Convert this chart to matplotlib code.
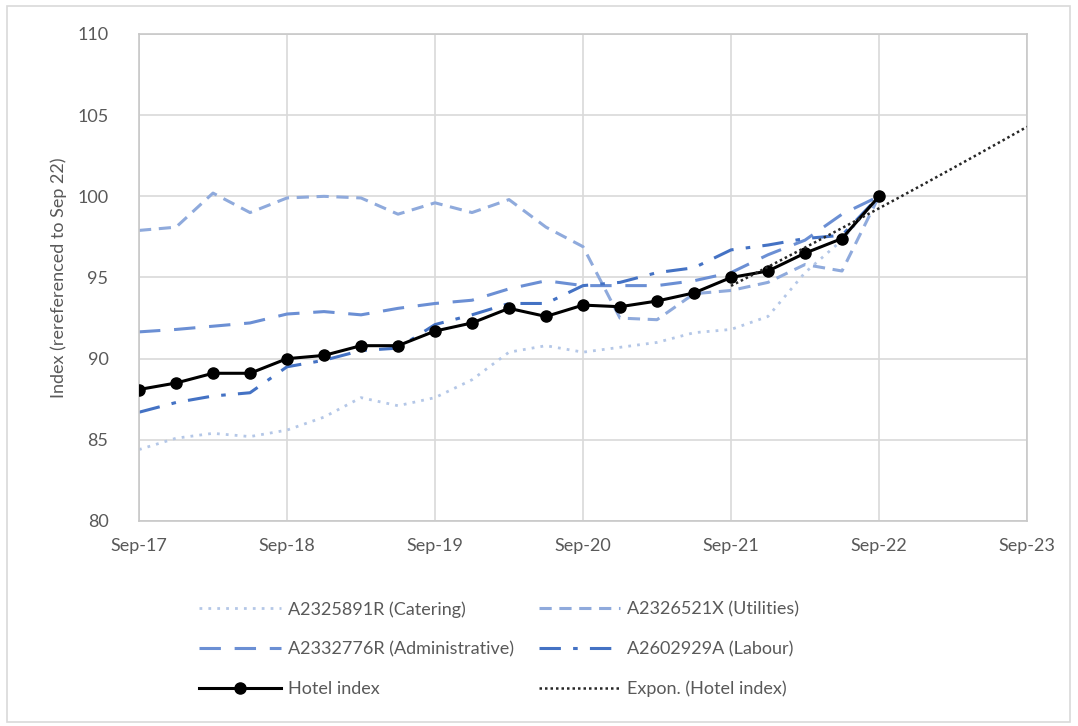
import numpy as np
from matplotlib import pyplot as plt
from matplotlib.patches import Rectangle

# --------------- Data (quarterly, Sep-17 .. Sep-22) ---------------
year_labels = ['Sep-17', 'Sep-18', 'Sep-19', 'Sep-20', 'Sep-21', 'Sep-22', 'Sep-23']

catering = [84.4, 85.1, 85.4, 85.2, 85.6, 86.4, 87.6, 87.1, 87.6, 88.7, 90.4,
            90.8, 90.4, 90.7, 91.0, 91.6, 91.8, 92.6, 95.3, 97.3, 100.0]
utilities = [97.9, 98.1, 100.2, 99.0, 99.9, 100.0, 99.9, 98.9, 99.6, 99.0, 99.8,
             98.1, 96.9, 92.5, 92.4, 94.0, 94.2, 94.7, 95.8, 95.4, 100.0]
administrative = [91.65, 91.8, 92.0, 92.2, 92.75, 92.9, 92.7, 93.1, 93.4, 93.6, 94.3,
                  94.8, 94.5, 94.5, 94.5, 94.8, 95.3, 96.4, 97.3, 98.9, 100.0]
labour = [86.7, 87.3, 87.7, 87.9, 89.5, 89.9, 90.5, 90.65, 92.1, 92.7, 93.4,
          93.4, 94.5, 94.7, 95.3, 95.6, 96.7, 97.0, 97.4, 97.6, 100.0]
hotel = [88.1, 88.5, 89.1, 89.1, 90.0, 90.2, 90.8, 90.8, 91.7, 92.2, 93.1,
         92.6, 93.3, 93.2, 93.55, 94.05, 95.0, 95.4, 96.5, 97.4, 100.0]

q = np.arange(len(hotel))

# exponential trendline on the last year of the hotel index, forecast 4 quarters
fit_start = 16
b, a = np.polyfit(q[fit_start:], np.log(hotel[fit_start:]), 1)
q_trend = np.linspace(fit_start, 24, 50)
trend = np.exp(a + b * q_trend)

# --------------- Plot ---------------
fig = plt.figure(figsize=(10.78, 7.26), dpi=100)
plt.rcParams['font.family'] = ['Lato', 'DejaVu Sans']
ax = fig.add_axes([139/1078, 1 - 521/726, (1027-139)/1078, (521-34)/726])

grey = '#595959'
l1, = ax.plot(q, catering, color='#b4c7e7', lw=2, ls=(0, (1, 2.2)),
              label='A2325891R (Catering)')
l2, = ax.plot(q, utilities, color='#8faadc', lw=2.2, ls=(0, (4, 2.5)),
              label='A2326521X (Utilities)')
l3, = ax.plot(q, administrative, color='#6b8fd4', lw=2.2, ls=(0, (7, 4.5)),
              label='A2332776R (Administrative)')
l4, = ax.plot(q, labour, color='#4472c4', lw=2.2, ls=(0, (7, 4, 1.5, 4)),
              label='A2602929A (Labour)')
l5, = ax.plot(q, hotel, color='black', lw=2.2, marker='o', ms=8,
              label='Hotel index', zorder=5)
l6, = ax.plot(q_trend, trend, color='#262626', lw=1.8, ls=(0, (1, 1.2)),
              label='Expon. (Hotel index)', zorder=6)

ax.set_xlim(0, 24)
ax.set_ylim(80, 110)
ax.set_xticks(np.arange(0, 25, 4))
ax.set_xticklabels(year_labels)
ax.set_yticks(np.arange(80, 111, 5))
ax.grid(True, color='#d9d9d9', lw=1.2)
ax.set_axisbelow(True)
for s in ax.spines.values():
    s.set_color('#c8c8c8')
    s.set_linewidth(1.2)
ax.tick_params(length=0, labelsize=13, labelcolor=grey)
ax.tick_params(axis='y', pad=22)
ax.tick_params(axis='x', pad=12)
ax.set_ylabel('Index (rereferenced to Sep 22)', fontsize=13, color=grey, labelpad=7)

handles = [l1, l3, l5, l2, l4, l6]
fig.legend(handles=handles, labels=[h.get_label() for h in handles],
           ncol=2, frameon=False, loc='upper left', bbox_to_anchor=(183/1078, 1 - 585/726),
           fontsize=13, labelcolor=grey, handlelength=4.5, handletextpad=0.4,
           columnspacing=1.4, labelspacing=1.3)

fig.patches.append(Rectangle((7/1078, 4/726), 1063/1078, 716/726, transform=fig.transFigure,
                             fill=False, edgecolor='#d9d9d9', lw=1.2))

plt.savefig('out.png', dpi=100)
